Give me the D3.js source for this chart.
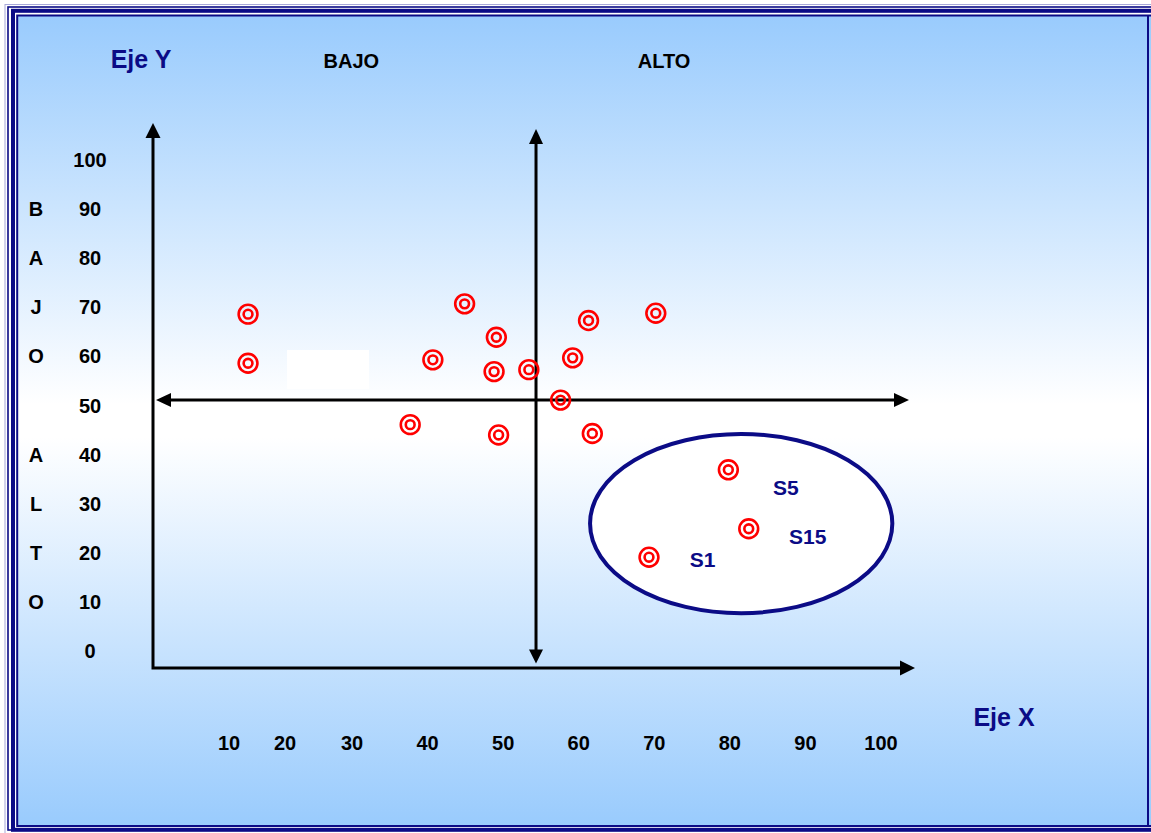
<!DOCTYPE html>
<html>
<head>
<meta charset="utf-8">
<script src="https://cdn.jsdelivr.net/npm/d3@7/dist/d3.min.js"></script>
<style>
  html, body { margin: 0; padding: 0; background: #ffffff; }
  svg { display: block; }
  text { font-family: "Liberation Sans", Arial, sans-serif; font-weight: bold; }
</style>
</head>
<body>
<script>
// ---------------- data ----------------
const xTicks = [10, 20, 30, 40, 50, 60, 70, 80, 90, 100];
const yTicks = [0, 10, 20, 30, 40, 50, 60, 70, 80, 90, 100];
const sideLetterValues = [90, 80, 70, 60, 40, 30, 20, 10];
const sideLetters = ["B", "A", "J", "O", "A", "L", "T", "O"];
const quadrantTitles = ["BAJO", "ALTO"];
const quadrantTitleX = [29.9, 71.3];

const pointsX = [13.4, 13.4, 44.9, 49.1, 40.7, 48.8, 53.4, 61.3, 59.2, 57.6, 37.7, 49.4, 61.8, 70.2, 79.8, 82.5, 69.3];
const pointsY = [68.6, 58.6, 70.7, 63.9, 59.3, 56.9, 57.3, 67.3, 59.7, 51.1, 46.1, 44.0, 44.3, 68.8, 36.9, 24.9, 19.1];

const labelNames = ["S5", "S15", "S1"];
const labelX = [87.4, 90.3, 76.4];
const labelY = [33.2, 23.4, 18.7];

const groupXRange = [61.5, 101.5];
const groupYRange = [7.7, 44.2];

const xMid = 54.35;   // quadrant divider on X
const yMid = 51.1;    // quadrant divider on Y

// ---------------- layout ----------------
const W = 1151, H = 833;
const axisLeft = 153, axisBottom = 668;
const axisTop = 123, axisRight = 915;

const svg = d3.select("body").append("svg").attr("width", W).attr("height", H);

const x = d3.scaleLinear().domain([10, 20, 30, 100]).range([229, 285, 352, 881]);
const y = d3.scaleLinear().domain([0, 100]).range([651, 160]);

const navy = "#0b0b86";

// background gradient
const defs = svg.append("defs");
const grad = defs.append("linearGradient").attr("id", "bg").attr("x1", 0).attr("y1", 0).attr("x2", 0).attr("y2", 1);
grad.append("stop").attr("offset", "0%").attr("stop-color", "#99cbfd");
grad.append("stop").attr("offset", "48%").attr("stop-color", "#ffffff");
grad.append("stop").attr("offset", "52%").attr("stop-color", "#ffffff");
grad.append("stop").attr("offset", "100%").attr("stop-color", "#99cbfd");

// frame
svg.append("rect").attr("x", 5).attr("y", 4.5).attr("width", 1160).attr("height", 840)
  .attr("fill", "none").attr("stroke", "#a8a8d8").attr("stroke-width", 1);
svg.append("rect").attr("x", 8).attr("y", 7).attr("width", 1160).attr("height", 823)
  .attr("fill", "none").attr("stroke", navy).attr("stroke-width", 1.6);
svg.append("rect").attr("x", 13).attr("y", 10.8).attr("width", 1160).attr("height", 819)
  .attr("fill", "none").attr("stroke", navy).attr("stroke-width", 4);
svg.append("rect").attr("x", 17.2).attr("y", 15.5).attr("width", 1150).attr("height", 810.5)
  .attr("fill", "url(#bg)").attr("stroke", navy).attr("stroke-width", 2);
svg.append("line").attr("x1", 1148).attr("x2", 1148).attr("y1", 15.5).attr("y2", 826)
  .attr("stroke", navy).attr("stroke-width", 2);

// white blank box
svg.append("rect").attr("x", 287).attr("y", 350).attr("width", 82).attr("height", 39).attr("fill", "#ffffff");

// arrow helper
function arrowHead(g, tipX, tipY, dir, len, half) {
  let pts;
  if (dir === "up") pts = [[tipX, tipY], [tipX - half, tipY + len], [tipX + half, tipY + len]];
  else if (dir === "down") pts = [[tipX, tipY], [tipX - half, tipY - len], [tipX + half, tipY - len]];
  else if (dir === "right") pts = [[tipX, tipY], [tipX - len, tipY - half], [tipX - len, tipY + half]];
  else pts = [[tipX, tipY], [tipX + len, tipY - half], [tipX + len, tipY + half]];
  g.append("path").attr("d", d3.line()(pts) + "Z").attr("fill", "#000");
}

const axes = svg.append("g");
// main axes
axes.append("path").attr("d", d3.line()([[axisLeft, axisTop + 10], [axisLeft, axisBottom], [axisRight - 10, axisBottom]]))
  .attr("fill", "none").attr("stroke", "#000").attr("stroke-width", 3);
arrowHead(axes, axisLeft, axisTop, "up", 15, 7.5);
arrowHead(axes, axisRight, axisBottom, "right", 15, 7.5);

// quadrant dividers
const mx = x(xMid), my = y(yMid);
axes.append("line").attr("x1", mx).attr("x2", mx).attr("y1", 138).attr("y2", axisBottom - 15)
  .attr("stroke", "#000").attr("stroke-width", 3);
arrowHead(axes, mx, 129, "up", 15, 7);
arrowHead(axes, mx, axisBottom - 4.5, "down", 14, 7);
axes.append("line").attr("y1", my).attr("y2", my).attr("x1", 166).attr("x2", 898)
  .attr("stroke", "#000").attr("stroke-width", 3);
arrowHead(axes, 156, my, "left", 15, 7);
arrowHead(axes, 909, my, "right", 15, 7);

// group ellipse
svg.append("ellipse")
  .attr("cx", (x(groupXRange[0]) + x(groupXRange[1])) / 2)
  .attr("cy", (y(groupYRange[0]) + y(groupYRange[1])) / 2)
  .attr("rx", (x(groupXRange[1]) - x(groupXRange[0])) / 2)
  .attr("ry", (y(groupYRange[0]) - y(groupYRange[1])) / 2)
  .attr("fill", "#ffffff").attr("stroke", navy).attr("stroke-width", 4);

// points (double circle markers)
const pts = svg.append("g").selectAll("g").data(d3.range(pointsX.length)).join("g")
  .attr("transform", i => `translate(${x(pointsX[i])},${y(pointsY[i])})`);
pts.append("circle").attr("r", 9.4).attr("fill", "none").attr("stroke", "#ff0000").attr("stroke-width", 2.6);
pts.append("circle").attr("r", 4.4).attr("fill", "none").attr("stroke", "#ff0000").attr("stroke-width", 2.6);

// group labels
svg.append("g").selectAll("text").data(labelNames).join("text")
  .attr("x", (d, i) => x(labelX[i])).attr("y", (d, i) => y(labelY[i]))
  .attr("text-anchor", "middle").attr("dominant-baseline", "central")
  .attr("font-size", 21).attr("fill", navy).text(d => d);

// tick labels
svg.append("g").selectAll("text").data(yTicks).join("text")
  .attr("x", 90).attr("y", d => y(d))
  .attr("text-anchor", "middle").attr("dominant-baseline", "central")
  .attr("font-size", 20).attr("fill", "#000").text(d => d);
svg.append("g").selectAll("text").data(xTicks).join("text")
  .attr("x", d => x(d)).attr("y", 743)
  .attr("text-anchor", "middle").attr("dominant-baseline", "central")
  .attr("font-size", 20).attr("fill", "#000").text(d => d);
svg.append("g").selectAll("text").data(sideLetters).join("text")
  .attr("x", 36).attr("y", (d, i) => y(sideLetterValues[i]))
  .attr("text-anchor", "middle").attr("dominant-baseline", "central")
  .attr("font-size", 20).attr("fill", "#000").text(d => d);

// quadrant titles
svg.append("g").selectAll("text").data(quadrantTitles).join("text")
  .attr("x", (d, i) => x(quadrantTitleX[i])).attr("y", 61)
  .attr("text-anchor", "middle").attr("dominant-baseline", "central")
  .attr("font-size", 20).attr("fill", "#000").text(d => d);

// axis titles
svg.append("text").attr("x", 141).attr("y", 59).attr("text-anchor", "middle").attr("dominant-baseline", "central")
  .attr("font-size", 25).attr("fill", navy).text("Eje Y");
svg.append("text").attr("x", 1004).attr("y", 717).attr("text-anchor", "middle").attr("dominant-baseline", "central")
  .attr("font-size", 25).attr("fill", navy).text("Eje X");
</script>
</body>
</html>
